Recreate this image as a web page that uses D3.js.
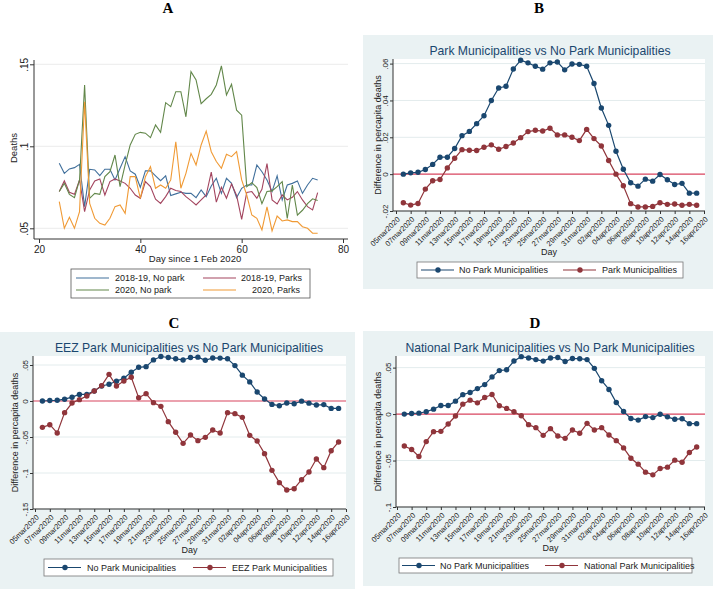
<!DOCTYPE html>
<html>
<head>
<meta charset="utf-8">
<script src="https://cdn.jsdelivr.net/npm/d3@7"></script>
<style>
  body { margin: 0; background: #fff; }
  svg { display: block; }
  text { font-family: "Liberation Sans", Arial, sans-serif; }
</style>
</head>
<body>
<svg id="chart" width="714" height="589"></svg>
<script>
// ---- Panel A: deaths by day since 1 Feb 2020 ----
const daysA = d3.range(24, 76);
const noPark1819 = [.0896,.0835,.0862,.087,.089,.0632,.086,.0856,.0821,.086,.086,.0795,.0866,.0937,.085,.083,.075,.085,.085,.082,.079,.082,.070,.071,.072,.0713,.0713,.0687,.0734,.0693,.0758,.0805,.0713,.0805,.0774,.0687,.0744,.0764,.0764,.0886,.0845,.0795,.0724,.082,.0673,.0764,.0774,.0789,.0713,.0764,.0805,.0795];
const parks1819 = [.0724,.0789,.072,.0707,.0795,.0602,.0734,.0789,.0801,.0703,.0785,.0801,.0789,.0774,.0744,.0703,.0683,.0785,.0754,.0677,.0652,.0693,.0744,.073,.0724,.0693,.0669,.0642,.0673,.0703,.0843,.066,.075,.0683,.077,.07,.0555,.0718,.0724,.0683,.0738,.0894,.0673,.0648,.0703,.0673,.0689,.0724,.0673,.0632,.0612,.0718];
const noPark2020 = [.0724,.0774,.0707,.0687,.0795,.1374,.0683,.0713,.0707,.0815,.0845,.0947,.0754,.0886,.1008,.1073,.1085,.108,.1053,.113,.1085,.1266,.1242,.1333,.1333,.118,.1455,.1405,.126,.129,.1317,.1374,.149,.1313,.1378,.122,.119,.0754,.0778,.0748,.065,.0724,.0728,.0754,.0785,.056,.0764,.058,.061,.065,.068,.067];
const parks2020 = [.0663,.05,.0567,.05,.0602,.1272,.0652,.0561,.053,.052,.0561,.0632,.0642,.0591,.0815,.0815,.0683,.0815,.0876,.0744,.0764,.0744,.0795,.1028,.0744,.0835,.0957,.0886,.1008,.1093,.0967,.0907,.0866,.0951,.0937,.0967,.0795,.0703,.0581,.0561,.049,.063,.0484,.0575,.0545,.0551,.0541,.0541,.051,.05,.047,.047];
const xTicksA = [20, 40, 60, 80];
const yTicksA = [0.05, 0.1, 0.15];
const seriesA = [
  { name: "2018-19, No park", values: noPark1819, color: "#41709c" },
  { name: "2018-19, Parks", values: parks1819, color: "#a3455f" },
  { name: "2020, No park", values: noPark2020, color: "#62874a" },
  { name: "2020, Parks", values: parks2020, color: "#f09a35" },
];

// ---- Panels B-D: difference in per capita deaths, 06mar2020 - 15apr2020 ----
const dates = d3.timeDay.range(new Date(2020, 2, 6), new Date(2020, 3, 16));
const dateTicks = d3.timeDay.range(new Date(2020, 2, 5), new Date(2020, 3, 17), 2);
const noPark = [0,.0007,.001,.0025,.0053,.0092,.0092,.0139,.0209,.0232,.0274,.0317,.040,.0468,.0477,.0571,.0618,.0604,.0586,.057,.0604,.0609,.0566,.0598,.0596,.0586,.0492,.0359,.0265,.0124,.0027,-.0047,-.0065,-.0027,-.0038,-.0002,-.003,-.0056,-.005,-.0103,-.0103];
const parkB = [-.0155,-.0168,-.0159,-.0081,-.0036,-.0029,.0034,.0086,.0133,.013,.0128,.0146,.0159,.0135,.015,.0169,.0198,.0231,.0238,.0234,.0249,.0213,.0213,.02,.0182,.0243,.0193,.0153,.0074,0,-.0063,-.016,-.0178,-.0178,-.0175,-.0155,-.0164,-.0162,-.0169,-.0164,-.0169];
const eezC = [-.0366,-.0329,-.0444,-.0162,-.0028,.0019,.0069,.0139,.0213,.037,.0208,.0278,.0329,.0046,.0102,-.0023,-.0074,-.0287,-.0435,-.0588,-.0472,-.0551,-.0505,-.0403,-.0444,-.0162,-.0176,-.0227,-.0477,-.0556,-.0731,-.0963,-.1134,-.1236,-.1218,-.1093,-.0986,-.0806,-.0926,-.069,-.0569];
const nationalD = [-.0343,-.0382,-.0457,-.0296,-.0189,-.0186,-.0107,-.0021,.0107,.015,.0121,.0179,.0211,.0089,.0061,.0025,-.0018,-.0114,-.0146,-.0229,-.0157,-.0236,-.0261,-.0171,-.0207,-.01,-.0171,-.0146,-.0225,-.0286,-.0364,-.0475,-.0539,-.0625,-.0654,-.0586,-.0571,-.0496,-.0518,-.0414,-.0354];

const navy = "#1a476f", maroon = "#90353b";
const svg = d3.select("#chart");

const fmtNum = d => d === 0 ? "0" : String(+d.toFixed(3)).replace(/^(-?)0\./, "$1.");
const fmtDate = d => d3.timeFormat("%d%b%Y")(d).toLowerCase();

function panelLetter(t, x, y) {
  svg.append("text").attr("x", x).attr("y", y).attr("text-anchor", "middle")
    .style("font-family", "'Liberation Serif', 'Times New Roman', serif")
    .style("font-weight", "bold").style("font-size", "15px").text(t);
}

// ---------------- Panel A ----------------
function drawA() {
  panelLetter("A", 168, 13);
  const x = d3.scaleLinear().domain([20, 80]).range([39, 343]);
  const y = d3.scaleLinear().domain([0.05, 0.15]).range([228.3, 64.3]);
  const left = 34, right = 348, top = 60, bottom = 239;

  const g = svg.append("g");
  g.selectAll(".gridA").data(yTicksA).join("line")
    .attr("x1", left).attr("x2", right)
    .attr("y1", d => y(d)).attr("y2", d => y(d))
    .attr("stroke", "#ececec").attr("stroke-width", 1);

  const line = d3.line().x((d, i) => x(daysA[i])).y(d => y(d));
  g.selectAll(".serA").data(seriesA).join("path")
    .attr("d", d => line(d.values))
    .attr("fill", "none").attr("stroke", d => d.color).attr("stroke-width", 1.1);

  const xAxis = g.append("g").attr("transform", `translate(0,${bottom})`)
    .call(d3.axisBottom(x).tickValues(xTicksA).tickSize(4).tickSizeOuter(0));
  xAxis.select(".domain").attr("d", `M${left},0H${right}`).attr("stroke", "#333");
  xAxis.selectAll(".tick line").attr("stroke", "#333");
  xAxis.selectAll("text").style("font-size", "10px").attr("y", 7).attr("fill", "#222");

  const yAxis = g.append("g").attr("transform", `translate(${left},0)`)
    .call(d3.axisLeft(y).tickValues(yTicksA).tickFormat(fmtNum).tickSize(4).tickSizeOuter(0));
  yAxis.select(".domain").attr("d", `M0,${top}V${bottom}`).attr("stroke", "#333");
  yAxis.selectAll(".tick line").attr("stroke", "#333");
  yAxis.selectAll("text").style("font-size", "10px").attr("fill", "#222")
    .attr("transform", "rotate(-90)").attr("text-anchor", "middle")
    .attr("x", 0).attr("y", -6).attr("dy", 0);

  g.append("text").attr("x", 195).attr("y", 262).attr("text-anchor", "middle")
    .style("font-size", "9.5px").attr("fill", "#222").text("Day since 1 Feb 2020");
  g.append("text").attr("transform", "translate(17,148) rotate(-90)").attr("text-anchor", "middle")
    .style("font-size", "9.5px").attr("fill", "#222").text("Deaths");

  // legend
  g.append("rect").attr("x", 71).attr("y", 269).attr("width", 239).attr("height", 29)
    .attr("fill", "#fff").attr("stroke", "#555").attr("stroke-width", 0.8);
  const pos = [[76, 115, 278], [203, 241, 278], [76, 115, 290], [203, 252, 290]];
  const order = [0, 1, 2, 3];
  order.forEach((k, i) => {
    const [lx, tx, ly] = pos[i];
    g.append("line").attr("x1", lx).attr("x2", lx + 33).attr("y1", ly).attr("y2", ly)
      .attr("stroke", seriesA[k].color).attr("stroke-width", 1.1);
    g.append("text").attr("x", tx).attr("y", ly + 3.3).style("font-size", "9px")
      .attr("fill", "#222").text(seriesA[k].name);
  });
}

// ---------------- Panels B-D ----------------
function drawDiff(cfg, series2, name2) {
  panelLetter(cfg.letter, cfg.letterX, cfg.letterY);
  const [bx, by, bw, bh] = cfg.bg;
  const [px, py, pw, ph] = cfg.plot;
  const g = svg.append("g");
  g.append("rect").attr("x", bx).attr("y", by).attr("width", bw).attr("height", bh).attr("fill", "#eaf2f3");
  g.append("rect").attr("x", px).attr("y", py).attr("width", pw).attr("height", ph).attr("fill", "#fff");

  const x = d3.scaleTime().domain([dateTicks[0], dateTicks[dateTicks.length - 1]]).range(cfg.xRange);
  const y = d3.scaleLinear().domain(cfg.yDomain).range([py + ph, py]);

  g.selectAll(".grid").data(cfg.yTicks.filter(d => d !== 0)).join("line")
    .attr("x1", px).attr("x2", px + pw)
    .attr("y1", d => y(d)).attr("y2", d => y(d))
    .attr("stroke", "#e3eced").attr("stroke-width", 1);
  g.append("line").attr("x1", px).attr("x2", px + pw).attr("y1", y(0)).attr("y2", y(0))
    .attr("stroke", "#d8455f").attr("stroke-width", 1.2);

  const line = d3.line().x((d, i) => x(dates[i])).y(d => y(d));
  const ser = [{ v: noPark, c: navy }, { v: series2, c: maroon }];
  ser.forEach(s => {
    g.append("path").attr("d", line(s.v)).attr("fill", "none")
      .attr("stroke", s.c).attr("stroke-width", 1.2);
    g.selectAll(null).data(s.v).join("circle")
      .attr("cx", (d, i) => x(dates[i])).attr("cy", d => y(d)).attr("r", 2.7)
      .attr("fill", s.c);
  });

  const xAxis = g.append("g").attr("transform", `translate(0,${py + ph})`)
    .call(d3.axisBottom(x).tickValues(dateTicks).tickFormat(fmtDate).tickSize(3).tickSizeOuter(0));
  xAxis.select(".domain").attr("d", `M${px},0H${px + pw}`).attr("stroke", "#333");
  xAxis.selectAll(".tick line").attr("stroke", "#333");
  xAxis.selectAll("text").style("font-size", "7.5px").attr("fill", "#222")
    .attr("text-anchor", "end").attr("x", 0).attr("y", 0).attr("dy", "0.35em")
    .attr("transform", "translate(2,7) rotate(-45)");

  const yAxis = g.append("g").attr("transform", `translate(${px},0)`)
    .call(d3.axisLeft(y).tickValues(cfg.yTicks).tickFormat(fmtNum).tickSize(3).tickSizeOuter(0));
  yAxis.select(".domain").attr("d", `M0,${py}V${py + ph}`).attr("stroke", "#333");
  yAxis.selectAll(".tick line").attr("stroke", "#333");
  yAxis.selectAll("text").style("font-size", "8px").attr("fill", "#222")
    .attr("transform", "rotate(-90)").attr("text-anchor", "middle")
    .attr("x", 0).attr("y", -5).attr("dy", 0);

  g.append("text").attr("x", cfg.titleX).attr("y", cfg.titleY).attr("text-anchor", "middle")
    .style("font-size", "12.2px").attr("fill", navy).text(cfg.title);
  g.append("text").attr("x", px + pw / 2).attr("y", cfg.dayY).attr("text-anchor", "middle")
    .style("font-size", "9px").attr("fill", "#222").text("Day");
  g.append("text").attr("transform", `translate(${cfg.ytX},${py + ph / 2}) rotate(-90)`)
    .attr("text-anchor", "middle").style("font-size", "9px").attr("fill", "#222")
    .text("Difference in percapita deaths");

  const L = cfg.legend;
  g.append("rect").attr("x", L.x).attr("y", L.y).attr("width", L.w).attr("height", L.h)
    .attr("fill", "#fff").attr("stroke", "#777").attr("stroke-width", 0.8);
  const cy = L.y + L.h / 2;
  [[L.l1, L.t1, navy, "No Park Municipalities"], [L.l2, L.t2, maroon, name2]].forEach(([lx, tx, c, t]) => {
    g.append("line").attr("x1", lx).attr("x2", lx + 33).attr("y1", cy).attr("y2", cy)
      .attr("stroke", c).attr("stroke-width", 1.2);
    g.append("circle").attr("cx", lx + 17).attr("cy", cy).attr("r", 2.7).attr("fill", c);
    g.append("text").attr("x", tx).attr("y", cy + 3.2).style("font-size", "9px")
      .attr("fill", "#222").text(t);
  });
}

drawA();

drawDiff({
  letter: "B", letterX: 539, letterY: 13,
  bg: [363, 35, 350, 254], plot: [393, 59, 312, 152], xRange: [396, 704],
  yDomain: [-0.02, 0.0625], yTicks: [-0.02, 0, 0.02, 0.04, 0.06],
  title: "Park Municipalities vs No Park Municipalities", titleX: 550, titleY: 55,
  dayY: 255, ytX: 381,
  legend: { x: 417, y: 262, w: 266, h: 16, l1: 421, t1: 459, l2: 563, t2: 602 },
}, parkB, "Park Municipalities");

drawDiff({
  letter: "C", letterX: 174, letterY: 328,
  bg: [0, 332, 355, 257], plot: [33, 356, 313, 153], xRange: [35, 346],
  yDomain: [-0.15, 0.0625], yTicks: [-0.15, -0.1, -0.05, 0, 0.05],
  title: "EEZ Park Municipalities vs No Park Municipalities", titleX: 189, titleY: 352,
  dayY: 553, ytX: 18,
  legend: { x: 44, y: 559, w: 289, h: 17, l1: 48, t1: 87, l2: 193, t2: 232 },
}, eezC, "EEZ Park Municipalities");

drawDiff({
  letter: "D", letterX: 535, letterY: 328,
  bg: [363, 331, 350, 255], plot: [396, 356, 309, 151], xRange: [397, 704],
  yDomain: [-0.1, 0.0625], yTicks: [-0.1, -0.05, 0, 0.05],
  title: "National Park Municipalities vs No Park Municipalities", titleX: 550, titleY: 352,
  dayY: 551, ytX: 381,
  legend: { x: 399, y: 558, w: 293, h: 15, l1: 402, t1: 440, l2: 545, t2: 584 },
}, nationalD, "National Park Municipalities");
</script>
</body>
</html>
